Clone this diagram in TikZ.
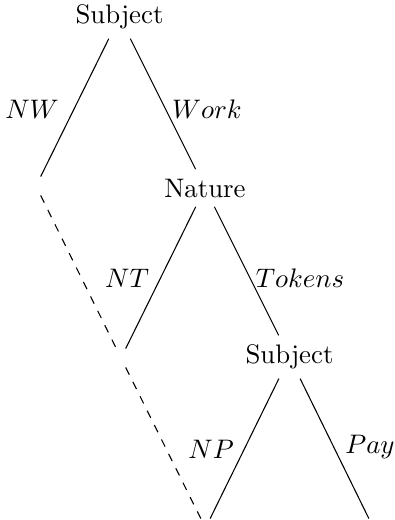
\documentclass[tikz,border=0pt]{standalone}
\begin{document}
\begin{tikzpicture}[x=0.3731pt,y=-0.3731pt,
  leaf/.style={inner sep=3.33pt},
  lab/.style={inner sep=0pt},
  info/.style={dashed}]
\useasboundingbox (0,0) rectangle (394,520);
\node (s1) at (119.5,17) {Subject};
\node[leaf] (w0) at (36,186) {};
\node (n1) at (205,188) {Nature};
\node[leaf] (t0) at (121,358) {};
\node (s2) at (289.5,357) {Subject};
\node[leaf] (p0) at (205.5,528) {};
\node[leaf] (p1) at (373.5,528) {};
\draw (s1) -- (w0);
\draw (s1) -- (n1);
\draw (n1) -- (t0);
\draw (n1) -- (s2);
\draw (s2) -- (p0);
\draw (s2) -- (p1);
\draw[info] (w0) -- (t0);
\draw[info] (t0) -- (p0);
\node[lab] (lnw) at (32,109) {$NW$};
\node[lab] (lw) at (207,109) {$Work$};
\node[lab] (lnt) at (127,278) {$NT$};
\node[lab] (lt) at (300,278) {$Tokens$};
\node[lab] (lnp) at (211,449) {$NP$};
\node[lab] (lp) at (370,447) {$Pay$};
\end{tikzpicture}
\end{document}
